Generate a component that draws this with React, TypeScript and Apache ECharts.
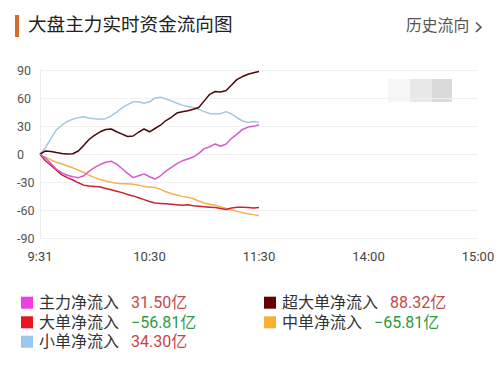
import React, { useEffect, useRef } from "react";
import * as echarts from "echarts";

const minutes = [0,3,6,9,12,15,18,21,24,27,30,33,36,39,42,45,48,51,54,57,60,63,66,69,72,75,78,81,84,87,90,93,96,99,102,105,108,111,114,117,120];

const xTickLabels: Record<number, string> = { 0: "9:31", 60: "10:30", 120: "11:30", 180: "14:00", 240: "15:00" };

const mainNet = [0,-4,-10,-16,-20,-22.5,-24,-25,-23,-18,-14,-11,-8.5,-7.5,-10.5,-15.5,-20.5,-25,-23,-21,-24,-26.5,-23,-18,-14,-10,-7,-5,-3,1,6,8,11,8.5,11,17,21.5,26.5,29,29.8,31.5];
const superNet = [0,3.5,3,1.8,0.8,0.3,0.5,3.5,9.5,16,20.5,24,26.5,27,24,21.5,19,19.5,23.5,27,24,27.5,31,36,39.5,44,45.5,46.5,48,50,57,64,67,66.5,68,74,80,83,85.5,87,88.32];
const largeNet = [0,-7,-12,-17,-22,-25,-27.5,-30.5,-33,-34,-34.5,-35,-36.5,-38,-39.5,-41,-43,-44.5,-46.5,-48.5,-50.5,-52,-52.5,-53,-53.5,-54,-54.5,-54,-55,-55.5,-56,-56.5,-57,-58,-59,-57.5,-56.5,-56.5,-57,-57.5,-56.81];
const mediumNet = [-1,-3.5,-6,-8.5,-10.5,-12.5,-14.5,-17,-19.5,-22.5,-25,-27,-28.5,-30,-31,-31.5,-31.5,-32,-33,-34.5,-35,-35.5,-37.5,-40,-42,-43.5,-45,-46,-47.5,-50,-52,-53.5,-54.5,-56,-58,-59.5,-61,-62.5,-63.5,-64.5,-65.81];
const smallNet = [0,7,17,26,31,35,37.5,39,40,38.5,38,37.5,38,41,45,49.5,53,56,56,54.5,56,60,61,59,57,54.5,52.5,51,50,48,45.5,43.5,43,43.5,45.5,43,39,35.5,34,35,34.3];

const seriesNames = ["主力净流入", "超大单净流入", "大单净流入", "中单净流入", "小单净流入"];
const totals = ["31.50", "88.32", "-56.81", "-65.81", "34.30"];
const legendColors = ["#f03ee2", "#660000", "#e8141e", "#f8b030", "#9cc6ec"];
const lineColors = ["#d45ccf", "#4a0808", "#cc2232", "#f2b452", "#a2c8e0"];
const seriesValues = [mainNet, superNet, largeNet, mediumNet, smallNet];

// legend placement: [left, row center y]
const legendSlots: [number, number][] = [[21, 302.7], [264, 302.7], [21, 322.3], [264, 322.3], [21, 341.7]];

const FONT = "Roboto, 'Noto Sans CJK SC', 'Noto Sans', sans-serif";

export default function App() {
  const ref = useRef<HTMLDivElement>(null);
  useEffect(() => {
    if (!ref.current) return;
    const chart = echarts.init(ref.current, undefined, { renderer: "svg" });
    const totalMap: Record<string, string> = {};
    seriesNames.forEach((n, i) => (totalMap[n] = totals[i]));
    const fmt = (name: string) => {
      const v = totalMap[name];
      const neg = v.startsWith("-");
      return `{n|${name}}{${neg ? "g" : "r"}|${neg ? "−" + v.slice(1) : v}亿}`;
    };
    const rich = {
      n: { fontSize: 16, color: "#333", fontFamily: FONT, lineHeight: 16, padding: [0, 0, 0, 1] },
      r: { fontSize: 16, color: "#c44848", fontFamily: FONT, lineHeight: 16, padding: [0, 0, 0, 12] },
      g: { fontSize: 16, color: "#2f9a3e", fontFamily: FONT, lineHeight: 16, padding: [0, 0, 0, 12] },
    };
    const legends = seriesNames.map((name, i) => ({
      orient: "vertical",
      left: legendSlots[i][0],
      top: legendSlots[i][1] - 8,
      padding: 0,
      itemWidth: 12,
      itemHeight: 12,
      icon: "rect",
      selectedMode: false,
      formatter: fmt,
      textStyle: { rich, fontFamily: FONT },
      data: [{ name, itemStyle: { color: legendColors[i] } }],
    }));
    chart.setOption({
      animation: false,
      backgroundColor: "#fff",
      textStyle: { fontFamily: FONT },
      grid: { left: 40, right: 21, top: 70, bottom: 127.5, containLabel: false },
      xAxis: {
        type: "value",
        min: 0,
        max: 240,
        interval: 60,
        axisLine: { show: false },
        axisTick: { show: false },
        splitLine: { show: false },
        axisLabel: {
          fontSize: 13,
          color: "#444",
          margin: 11,
          fontFamily: FONT,
          formatter: (v: number) => xTickLabels[v] ?? "",
        },
      },
      yAxis: {
        type: "value",
        min: -90,
        max: 90,
        interval: 30,
        axisLine: { show: true, lineStyle: { color: "#ececec" } },
        axisTick: { show: false },
        splitLine: { show: true, lineStyle: { color: "#f0f0f0" } },
        axisLabel: { fontSize: 12.5, color: "#555", align: "left", margin: 23, fontFamily: FONT },
      },
      legend: legends,
      graphic: [
        { type: "rect", left: 15, top: 15, shape: { width: 4, height: 22 }, style: { fill: "#d66a2c" } },
        { type: "text", left: 28, top: 16, style: { text: "大盘主力实时资金流向图", fontSize: 18.6, fill: "#222", fontFamily: FONT } },
        { type: "text", left: 406, top: 18, style: { text: "历史流向", fontSize: 15.8, fill: "#555", fontFamily: FONT } },
        { type: "polyline", shape: { points: [[476, 22.5], [481, 27.2], [476, 32]] }, style: { stroke: "#555", lineWidth: 1.6, fill: "none" } },
        { type: "rect", shape: { x: 388, y: 79, width: 22, height: 23 }, style: { fill: "#f6f6f6" } },
        { type: "rect", shape: { x: 410, y: 79, width: 22, height: 23 }, style: { fill: "#e8e8e8" } },
        { type: "rect", shape: { x: 432, y: 79, width: 20, height: 23 }, style: { fill: "#dadada" } },
      ],
      series: [4, 3, 2, 1, 0].map((i) => ({
        name: seriesNames[i],
        type: "line",
        showSymbol: false,
        itemStyle: { color: legendColors[i] },
        lineStyle: { color: lineColors[i], width: 1.5 },
        data: minutes.map((m, k) => [m, seriesValues[i][k]]),
      })),
    });
    return () => chart.dispose();
  }, []);
  return (
    <div
      ref={ref}
      style={{ position: "fixed", left: 0, top: 0, width: 499, height: 366, background: "#fff" }}
    />
  );
}
